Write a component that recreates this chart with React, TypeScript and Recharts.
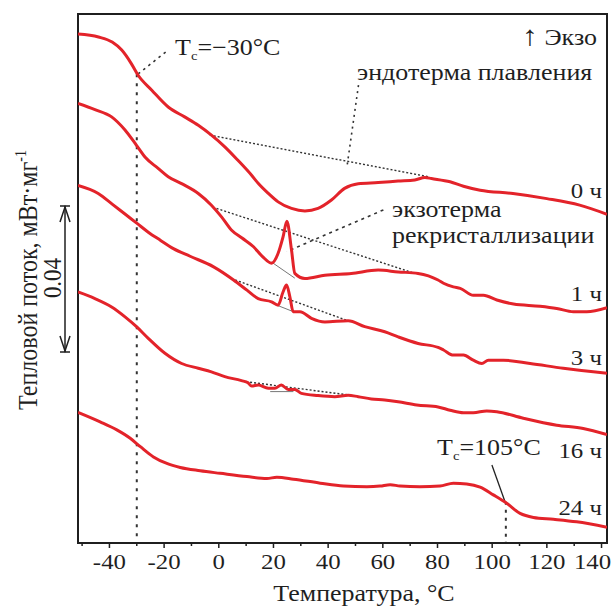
import { LineChart, Line, XAxis, YAxis, ReferenceLine, ReferenceArea } from "recharts";

// temperature (°C) and heat flow (10^-3 mW/mg, offset scale)
const temp0h = [-51.5, -44, -39, -35.5, -32, -29.5, -24.5, -18.5, -12.5, -7.5, -2.7, 2.2, 7, 12, 14.4, 18, 21.7, 26.6, 31.5, 36.3, 41.2, 46, 51, 58.3, 65.6, 71.7, 75.4, 77.8, 84.6, 89.5, 95.6, 107.6, 120, 132, 142];
const flow0h = [139.5, 138.7, 137.3, 135.1, 131.4, 128.2, 124.1, 119.5, 116.8, 114.5, 111.8, 108.6, 104.9, 100.8, 98.6, 95.9, 93.5, 91.7, 91.0, 91.7, 94.0, 97.2, 98.5, 98.8, 99.2, 99.5, 100.2, 99.9, 99.0, 97.8, 96.7, 95.8, 94.4, 92.6, 90.1];

const temp1h = [-51.5, -45.3, -39.2, -34.3, -30.1, -27, -22.2, -18.5, -13.6, -7.5, -2.7, 1, 4.6, 8.5, 12.7, 16, 19.3, 21.7, 23.5, 24.9, 26.6, 27.8, 31.5, 38.8, 48.5, 58.3, 65.6, 72.9, 80.2, 82.2, 85.8, 88.3, 93.1, 96.8, 101.7, 107.8, 117.5, 123.6, 129.7, 134.6, 142];
const flow1h = [120.5, 118.8, 116.8, 113.2, 109.0, 105.8, 102.7, 100.4, 98.5, 95.8, 92.6, 89.4, 85.8, 83.6, 81.2, 78.5, 76.7, 79.4, 83.9, 88.2, 80.3, 73.9, 72.5, 73.4, 73.9, 74.8, 74.3, 73.9, 72.1, 71.2, 70.2, 69.8, 67.9, 67.9, 66.6, 65.5, 64.9, 64.3, 63.4, 63.4, 64.5];

const temp3h = [-51.5, -44.1, -39, -34.2, -29.9, -25.8, -21.4, -16.6, -10.5, -1.9, 5.4, 10.3, 14.4, 19.3, 21.7, 23.5, 24.8, 26, 27.2, 29.7, 33.9, 38.8, 47.3, 53.4, 60.7, 65.6, 72.9, 80.2, 82.2, 85.8, 89.5, 93.1, 96.2, 98.6, 104.1, 113.9, 126, 142];
const flow3h = [98.0, 95.8, 92.9, 90.1, 87.6, 85.2, 83.0, 80.7, 78.6, 75.7, 72.1, 69.3, 67.0, 66.1, 65.2, 68.8, 70.7, 67.5, 63.4, 63.4, 61.6, 60.6, 60.9, 59.3, 57.9, 56.5, 54.7, 53.6, 52.9, 51.5, 51.5, 50.1, 49.2, 50.1, 50.1, 49.2, 47.9, 46.5];

const temp16h = [-51.5, -45.3, -39.2, -34.3, -30.1, -25.8, -19.7, -13.6, -7.5, -2.7, 2.2, 8.3, 10.7, 12, 14.4, 18.1, 20.5, 22.9, 25.4, 27.8, 30.2, 36.3, 42.4, 47.3, 51, 55.8, 60.7, 65.6, 72.4, 80.2, 84.6, 89.5, 93.1, 98, 101.7, 111.4, 123.6, 133.3, 142];
const flow16h = [68.8, 67.0, 64.7, 62.0, 59.3, 56.1, 52.0, 49.2, 47.9, 46.9, 45.6, 44.5, 43.9, 43.0, 43.3, 42.4, 42.4, 43.3, 42.1, 42.1, 41.0, 40.4, 40.1, 40.5, 40.1, 39.5, 39.2, 38.7, 37.8, 37.3, 36.4, 35.7, 35.7, 36.2, 36.0, 34.2, 32.3, 31.4, 29.7];

const temp24h = [-51.5, -43.4, -37.3, -32.4, -28.7, -23.9, -19, -14.1, -6.8, 0.5, 10.3, 17.6, 21.2, 27.3, 37.1, 45.6, 54.2, 59, 62.7, 66.3, 73.6, 80.9, 85.8, 90.7, 95.6, 100.4, 105.3, 110.2, 115.1, 122.4, 130.9, 142];
const flow24h = [35.8, 33.2, 31.0, 28.7, 26.4, 23.6, 21.8, 20.7, 19.8, 19.1, 18.2, 17.7, 18.0, 17.5, 16.4, 15.6, 15.4, 15.6, 16.0, 15.6, 15.4, 15.6, 16.4, 16.2, 15.3, 13.2, 10.9, 8.1, 7.0, 6.5, 5.8, 4.3];

const xTicks = [-50, -40, -30, -20, -10, 0, 10, 20, 30, 40, 50, 60, 70, 80, 90, 100, 110, 120, 130, 140];

const series = [
  { name: "0 ч", t: temp0h, q: flow0h },
  { name: "1 ч", t: temp1h, q: flow1h },
  { name: "3 ч", t: temp3h, q: flow3h },
  { name: "16 ч", t: temp16h, q: flow16h },
  { name: "24 ч", t: temp24h, q: flow24h },
];

// guide lines (baselines, leaders, Tc markers)
const guides = [
  { a: [-30, 128.5], b: [-30, 0], dash: "3 6", w: 2, c: "#333" },
  { a: [-29.5, 128.6], b: [-18.5, 135.1], dash: "2.5 4", w: 1.6, c: "#333" },
  { a: [-3.3, 111.8], b: [76.6, 100.4], dash: "2 2", w: 1.4, c: "#333" },
  { a: [51.1, 125.5], b: [46.8, 102.7], dash: "2 4", w: 1.6, c: "#333" },
  { a: [-0.8, 91.7], b: [71.7, 73.9], dash: "2 2", w: 1.4, c: "#333" },
  { a: [19.3, 77.0], b: [27.8, 72.6], dash: "", w: 1, c: "#777" },
  { a: [60.2, 91.3], b: [24.9, 79.9], dash: "3 4", w: 1.6, c: "#333" },
  { a: [6.0, 72.1], b: [47.3, 60.9], dash: "2 2", w: 1.4, c: "#333" },
  { a: [21.2, 65.2], b: [27.3, 63.4], dash: "", w: 1, c: "#777" },
  { a: [10.0, 44.2], b: [47.3, 40.6], dash: "2 2", w: 1.4, c: "#333" },
  { a: [18.8, 41.5], b: [27.3, 41.5], dash: "", w: 1, c: "#777" },
  { a: [99.9, 21.4], b: [104.7, 11.3], dash: "", w: 1.3, c: "#222" },
  { a: [105, 11.3], b: [105, 0], dash: "3 5", w: 2, c: "#333" },
];

const RED = "#e3232a";
const INK = "#1f1f1f";
const SERIF = "'Liberation Serif', 'Times New Roman', serif";
const SX = 1.13;

function XTick(props: any) {
  const { x, y, payload } = props;
  const v = payload.value;
  const major = v % 20 === 0;
  return (
    <g>
      <line x1={x} x2={x} y1={y} y2={y + (major ? 5 : 3)} stroke={INK} strokeWidth={1.5} />
      {major && (
        <text
          transform={`translate(${x + (v === 140 ? -9 : 0)},${y + 26}) scale(${SX},1)`}
          textAnchor="middle" fontFamily={SERIF} fontSize={22} fill={INK}
        >
          {String(v)}
        </text>
      )}
    </g>
  );
}

function T({ x, y, anchor = "start", size = 23, children }: any) {
  return (
    <text transform={`translate(${x},${y}) scale(${SX},1)`} textAnchor={anchor}
      fontFamily={SERIF} fontSize={size} fill={INK}>
      {children}
    </text>
  );
}

export default function App() {
  return (
    <div style={{ position: "relative", width: 613, height: 607, background: "#fff" }}>
      <style>{"body{margin:0}"}</style>
      <LineChart width={613} height={607} margin={{ top: 14, right: 6, bottom: 34, left: 78 }}>
        <XAxis
          dataKey="t" type="number" domain={[-51.5, 142]} allowDataOverflow
          ticks={xTicks} interval={0} tick={<XTick />}
          tickLine={false} tickSize={0} tickMargin={0} height={30}
          axisLine={{ stroke: INK, strokeWidth: 2 }}
        />
        <YAxis hide type="number" domain={[0, 145]} allowDataOverflow />
        <ReferenceArea x1={-51.5} x2={142} y1={0} y2={145} fill="none" fillOpacity={0}
          stroke={INK} strokeWidth={2} ifOverflow="visible" />
        {guides.map((g, i) => (
          <ReferenceLine key={i}
            segment={[{ x: g.a[0], y: g.a[1] }, { x: g.b[0], y: g.b[1] }]}
            stroke={g.c} strokeWidth={g.w} strokeDasharray={g.dash || undefined}
            ifOverflow="visible" />
        ))}
        {series.map((s) => (
          <Line key={s.name} name={s.name}
            data={s.t.map((t, i) => ({ t, q: s.q[i] }))}
            dataKey="q" type="monotone" stroke={RED} strokeWidth={3}
            dot={false} activeDot={false} isAnimationActive={false} />
        ))}
      </LineChart>

      <svg width={613} height={607} style={{ position: "absolute", left: 0, top: 0, pointerEvents: "none" }}>
        <T x={175} y={55} size={23}>T<tspan fontSize={13} dy={5}>c</tspan><tspan dy={-5}>=−30°C</tspan></T>
        <T x={597} y={45} anchor="end" size={23}><tspan fontSize={28}>↑</tspan> Экзо</T>
        <T x={357} y={80}>эндотерма плавления</T>
        <T x={392} y={217}>экзотерма</T>
        <T x={392} y={243}>рекристаллизации</T>
        <T x={602} y={198} anchor="end" size={22}>0 ч</T>
        <T x={602} y={301} anchor="end" size={22}>1 ч</T>
        <T x={602} y={365} anchor="end" size={22}>3 ч</T>
        <T x={602} y={458} anchor="end" size={22}>16 ч</T>
        <T x={602} y={515} anchor="end" size={22}>24 ч</T>
        <T x={437} y={455} size={23}>T<tspan fontSize={13} dy={5}>c</tspan><tspan dy={-5}>=105°C</tspan></T>
        <T x={364} y={601} anchor="middle" size={23}>Температура, °C</T>

        <text transform={`translate(37,280) scale(${SX},1) rotate(-90)`} textAnchor="middle"
          fontFamily={SERIF} fontSize={24} fill={INK}>
          Тепловой поток, мВт·мг<tspan fontSize={14} dy={-10}>-1</tspan>
        </text>
        <text transform={`translate(61,278) scale(${SX},1) rotate(-90)`} textAnchor="middle"
          fontFamily={SERIF} fontSize={23} fill={INK}>0.04</text>

        <g stroke={INK} strokeWidth={1.5} fill="none">
          <line x1={65} x2={65} y1={206} y2={352} />
          <line x1={60} x2={70} y1={206} y2={206} />
          <line x1={60} x2={70} y1={352} y2={352} />
          <polyline points="60,222 65,207 70,222" />
          <polyline points="60,336 65,351 70,336" />
        </g>
      </svg>
    </div>
  );
}
